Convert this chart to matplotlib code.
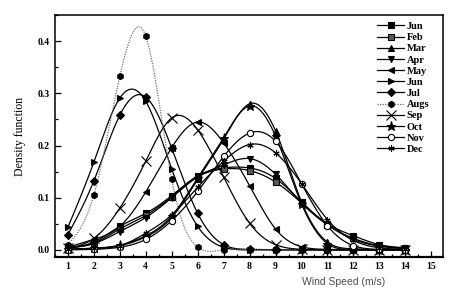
import numpy as np
import matplotlib
matplotlib.use("Agg")
import matplotlib.pyplot as plt
from matplotlib.ticker import MultipleLocator, FormatStrFormatter

# wind speed bins (m/s)
speed = [1, 2, 3, 4, 5, 6, 7, 8, 9, 10, 11, 12, 13, 14]

# density values, one list per month
jan = [0.004, 0.015, 0.045, 0.070, 0.104, 0.142, 0.157, 0.157, 0.137, 0.092, 0.050, 0.027, 0.010, 0.004]
feb = [0.004, 0.013, 0.040, 0.066, 0.102, 0.140, 0.155, 0.152, 0.130, 0.090, 0.048, 0.022, 0.008, 0.003]
mar = [0.001, 0.003, 0.008, 0.025, 0.062, 0.135, 0.212, 0.280, 0.228, 0.092, 0.015, 0.002, 0.000, 0.000]
apr = [0.004, 0.012, 0.035, 0.062, 0.100, 0.140, 0.163, 0.175, 0.145, 0.090, 0.048, 0.020, 0.007, 0.002]
may = [0.005, 0.020, 0.045, 0.111, 0.196, 0.245, 0.205, 0.123, 0.040, 0.006, 0.001, 0.000, 0.000, 0.000]
jun = [0.043, 0.168, 0.291, 0.285, 0.155, 0.045, 0.005, 0.000, 0.000, 0.000, 0.000, 0.000, 0.000, 0.000]
jul = [0.029, 0.132, 0.258, 0.293, 0.195, 0.070, 0.010, 0.001, 0.000, 0.000, 0.000, 0.000, 0.000, 0.000]
aug = [0.010, 0.105, 0.333, 0.410, 0.135, 0.005, 0.000, 0.000, 0.000, 0.000, 0.000, 0.000, 0.000, 0.000]
sep = [0.003, 0.022, 0.080, 0.170, 0.253, 0.230, 0.140, 0.051, 0.010, 0.001, 0.000, 0.000, 0.000, 0.000]
oct_ = [0.001, 0.003, 0.009, 0.027, 0.065, 0.138, 0.215, 0.276, 0.218, 0.088, 0.012, 0.001, 0.000, 0.000]
nov = [0.000, 0.001, 0.005, 0.020, 0.056, 0.112, 0.179, 0.224, 0.208, 0.127, 0.046, 0.008, 0.001, 0.000]
dec = [0.001, 0.003, 0.008, 0.032, 0.067, 0.120, 0.170, 0.202, 0.186, 0.127, 0.058, 0.018, 0.004, 0.001]

labels = ["Jun", "Feb", "Mar", "Apr", "May", "Jun", "Jul", "Augs", "Sep", "Oct", "Nov", "Dec"]
series = [jan, feb, mar, apr, may, jun, jul, aug, sep, oct_, nov, dec]
markers = ["s", "s", "^", "v", "<", ">", "D", "h", "x", "*", "o", (6, 2, 0)]

SERIF = "Liberation Serif"


def spline_curve(x, y, n=300):
    """Natural cubic spline through the points, used only to draw the connecting line."""
    x = np.asarray(x, float)
    y = np.asarray(y, float)
    m = len(x)
    h = np.diff(x)
    A = np.zeros((m, m))
    r = np.zeros(m)
    A[0, 0] = A[-1, -1] = 1
    for i in range(1, m - 1):
        A[i, i - 1] = h[i - 1]
        A[i, i] = 2 * (h[i - 1] + h[i])
        A[i, i + 1] = h[i]
        r[i] = 3 * ((y[i + 1] - y[i]) / h[i] - (y[i] - y[i - 1]) / h[i - 1])
    c = np.linalg.solve(A, r)
    b = (y[1:] - y[:-1]) / h - h * (2 * c[:-1] + c[1:]) / 3
    d = (c[1:] - c[:-1]) / (3 * h)
    xs = np.linspace(x[0], x[-1], n)
    idx = np.clip(np.searchsorted(x, xs) - 1, 0, m - 2)
    t = xs - x[idx]
    ys = y[idx] + b[idx] * t + c[idx] * t ** 2 + d[idx] * t ** 3
    return xs, ys


fig = plt.figure(figsize=(4.61, 2.97), dpi=100)
ax = fig.add_axes([0.119, 0.135, 0.842, 0.814])

for i, (vals, lab, mk) in enumerate(zip(series, labels, markers)):
    xs, ys = spline_curve(speed, vals)
    dotted = lab == "Augs"
    lcolor = "0.45" if dotted else "black"
    ls = (0, (1, 1)) if dotted else "-"
    face = "white" if lab == "Nov" else ("0.35" if lab == "Feb" else "black")
    ms = 6.5 if mk in ("*", "x") else 4.5
    ax.plot(xs, ys, color=lcolor, lw=0.9, ls=ls, zorder=2)
    ax.plot(speed, vals, ls="none", marker=mk, ms=ms, mfc=face, mec="black",
            mew=0.8, zorder=3)
    # legend proxy with line + marker
    ax.plot([], [], color=lcolor, lw=0.9, ls=ls, marker=mk, ms=ms, mfc=face,
            mec="black", mew=0.8, label=lab)

ax.set_xlim(0.5, 15.45)
ax.set_ylim(-0.0135, 0.45)
ax.xaxis.set_major_locator(MultipleLocator(1))
ax.xaxis.set_minor_locator(MultipleLocator(0.5))
ax.yaxis.set_major_locator(MultipleLocator(0.1))
ax.yaxis.set_minor_locator(MultipleLocator(0.05))
ax.yaxis.set_major_formatter(FormatStrFormatter("%.1f"))
ax.tick_params(which="both", direction="in", top=False, right=False, width=0.9)
ax.tick_params(which="major", length=4, pad=4)
ax.tick_params(which="minor", length=2)
for lbl in ax.get_xticklabels() + ax.get_yticklabels():
    lbl.set_fontfamily(SERIF)
    lbl.set_fontweight("bold")
    lbl.set_fontsize(7)
for sp in ax.spines.values():
    sp.set_linewidth(1.1)
ax.spines["bottom"].set_linewidth(1.6)

ax.set_ylabel("Density function", fontfamily=SERIF, fontsize=8.5, labelpad=8)
fig.text(0.746, 0.04, "Wind Speed (m/s)", fontfamily="Liberation Sans",
         fontsize=7.5, color="0.3", ha="center")

ax.legend(loc="upper right", bbox_to_anchor=(0.975, 0.99), frameon=False,
          prop={"family": SERIF, "weight": "bold", "size": 7.5},
          handlelength=2.6, handletextpad=0.2, labelspacing=0.18,
          borderaxespad=0)

fig.savefig("out.png", dpi=100, facecolor="white")
